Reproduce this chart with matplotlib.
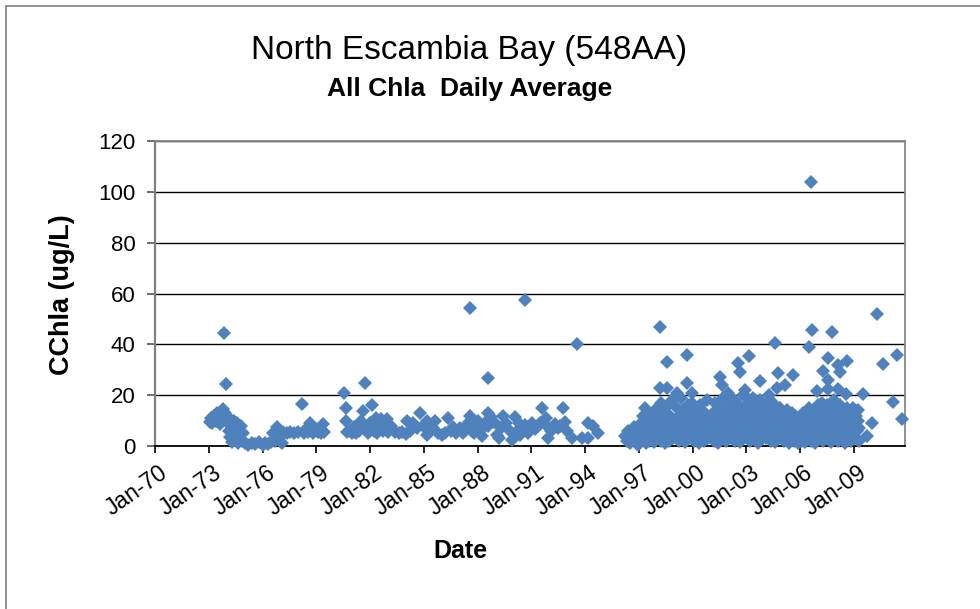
import matplotlib
matplotlib.use("Agg")
import matplotlib.pyplot as plt
import matplotlib.transforms as mtransforms
from matplotlib.lines import Line2D

plt.rcParams['font.family'] = ['Liberation Sans', 'DejaVu Sans']

# ---------------- data (decimal year, chlorophyll a ug/L) ----------------
obs_1973_1980 = [
    (1973.05, 9.5), (1973.12, 11), (1973.2, 9), (1973.3, 12), (1973.38, 10), (1973.45, 13),
    (1973.52, 11), (1973.6, 8.5), (1973.68, 13.5), (1973.75, 12), (1973.82, 14.5), (1973.9, 13),
    (1973.85, 44.3), (1973.94, 24.2), (1974.0, 12),
    (1974.05, 9), (1974.1, 6), (1974.15, 11), (1974.2, 3.5), (1974.25, 8), (1974.3, 1.5),
    (1974.35, 5), (1974.4, 10), (1974.45, 2.5), (1974.5, 7), (1974.55, 4), (1974.6, 9),
    (1974.65, 1), (1974.7, 6), (1974.75, 3), (1974.8, 8), (1974.85, 2), (1974.9, 5), (1975.0, 1),
    (1975.2, 0.5), (1975.4, 1.2), (1975.6, 0.6), (1975.8, 1.4), (1976.0, 0.4), (1976.15, 1),
    (1976.3, 0.7), (1976.45, 1.5), (1976.6, 5), (1976.7, 2), (1976.79, 7.6), (1976.97, 3.6),
    (1977.1, 1.2), (1977.16, 5.6), (1977.35, 5), (1977.55, 5.5), (1977.75, 5), (1977.95, 5.5),
    (1978.18, 16.5), (1978.3, 5), (1978.46, 7), (1978.55, 5.5), (1978.64, 8.9), (1978.8, 5),
    (1979.0, 6.5), (1979.1, 5.5), (1979.25, 5), (1979.39, 8.6), (1979.45, 5.5),
]

obs_1980_1988 = [
    (1980.56, 20.9), (1980.64, 15), (1980.64, 9.8), (1980.7, 5.5), (1980.85, 6), (1981.0, 5),
    (1981.1, 7.5), (1981.2, 5), (1981.3, 8), (1981.4, 6), (1981.5, 10), (1981.62, 13.7),
    (1981.71, 24.6), (1981.8, 7), (1981.9, 5), (1982.0, 9), (1982.12, 16), (1982.2, 6),
    (1982.3, 11), (1982.4, 5), (1982.5, 8), (1982.6, 10.5), (1982.7, 6), (1982.8, 7.5),
    (1982.92, 10.5), (1983.0, 5.5), (1983.15, 8), (1983.4, 5.5), (1983.6, 5), (1983.8, 5.5),
    (1984.0, 4.8), (1984.04, 10), (1984.2, 6), (1984.4, 9), (1984.6, 7), (1984.78, 12.8),
    (1984.95, 8), (1985.15, 10), (1985.15, 4.3), (1985.3, 6), (1985.45, 7.5), (1985.6, 10),
    (1985.8, 5), (1986.0, 4.5), (1986.17, 5), (1986.36, 10.9), (1986.5, 6), (1986.6, 7.5),
    (1986.8, 5), (1987.0, 7), (1987.2, 5), (1987.35, 8), (1987.5, 9.5), (1987.57, 12),
    (1987.57, 54.1), (1987.7, 6), (1987.8, 5), (1987.94, 8),
]

obs_1988_1995 = [
    (1988.0, 10), (1988.1, 6), (1988.25, 4), (1988.4, 9), (1988.57, 12.8), (1988.59, 26.9),
    (1988.75, 11.5), (1988.6, 8), (1988.9, 9.5), (1989.1, 4.3), (1989.2, 3), (1989.3, 7),
    (1989.42, 12), (1989.6, 9), (1989.8, 6), (1989.9, 2.5), (1990.08, 11.5), (1990.2, 6),
    (1990.3, 9), (1990.35, 4.5), (1990.5, 7), (1990.64, 8.3), (1990.63, 57.6), (1990.8, 5),
    (1991.0, 9), (1991.2, 6.5), (1991.35, 8), (1991.5, 9), (1991.57, 14.8), (1991.8, 11),
    (1991.9, 7.5), (1991.94, 3), (1992.1, 6), (1992.3, 8.5), (1992.5, 7), (1992.6, 8),
    (1992.77, 14.8), (1992.87, 9.5), (1993.0, 6), (1993.24, 3), (1993.54, 40), (1993.8, 3),
    (1994.15, 3), (1994.17, 8.9), (1994.45, 8), (1994.73, 5),
]

obs_1996_2002 = [
    (1996.2, 4), (1996.3, 2), (1996.4, 6), (1996.5, 1), (1996.6, 3.5), (1996.7, 7.5), (1996.8, 5),
    (1996.9, 2.5), (1996.95, 0.3),
    (1997.03, 5), (1997.08, 2), (1997.13, 9), (1997.17, 3), (1997.22, 12), (1997.27, 6),
    (1997.33, 15), (1997.37, 1), (1997.42, 8), (1997.47, 4), (1997.51, 13), (1997.56, 2),
    (1997.6, 10), (1997.66, 6), (1997.7, 3), (1997.74, 11), (1997.8, 7), (1997.85, 1.5),
    (1997.9, 14), (1997.96, 5),
    (1998.02, 8), (1998.06, 3), (1998.11, 12), (1998.15, 6), (1998.17, 46.7), (1998.17, 22.7),
    (1998.21, 17), (1998.24, 2), (1998.29, 10), (1998.33, 5), (1998.38, 14), (1998.42, 1),
    (1998.46, 8), (1998.5, 11), (1998.56, 33), (1998.56, 23), (1998.55, 4), (1998.6, 16),
    (1998.64, 7), (1998.68, 2), (1998.72, 12), (1998.77, 5), (1998.82, 9), (1998.86, 18),
    (1998.9, 3), (1998.95, 6),
    (1999.02, 10), (1999.06, 4), (1999.11, 21), (1999.1, 15), (1999.15, 7), (1999.2, 2),
    (1999.24, 12), (1999.28, 6), (1999.33, 19), (1999.38, 3), (1999.42, 9), (1999.46, 14),
    (1999.5, 5), (1999.55, 1.5), (1999.6, 11), (1999.64, 8), (1999.67, 36), (1999.67, 24.7),
    (1999.7, 16), (1999.73, 3), (1999.77, 7), (1999.82, 13), (1999.86, 4), (1999.9, 10),
    (1999.95, 21), (1999.97, 17),
    (2000.02, 6), (2000.06, 2), (2000.1, 11), (2000.15, 8), (2000.2, 14), (2000.24, 4),
    (2000.28, 9), (2000.33, 1), (2000.38, 16), (2000.42, 6), (2000.46, 12), (2000.5, 3),
    (2000.55, 7), (2000.6, 10), (2000.64, 2), (2000.68, 13), (2000.72, 5), (2000.77, 18),
    (2000.82, 8), (2000.86, 3), (2000.9, 11), (2000.95, 6),
    (2001.02, 9), (2001.06, 4), (2001.1, 13), (2001.15, 2), (2001.2, 7), (2001.24, 17),
    (2001.28, 11), (2001.33, 5), (2001.38, 1), (2001.42, 9), (2001.46, 15), (2001.51, 27),
    (2001.5, 6), (2001.55, 3), (2001.6, 24), (2001.62, 12), (2001.66, 8), (2001.7, 19),
    (2001.73, 4), (2001.77, 10), (2001.82, 14), (2001.86, 2), (2001.9, 7), (2001.96, 21),
    (2001.97, 16),
    (2002.02, 5), (2002.06, 11), (2002.1, 3), (2002.15, 8), (2002.2, 14), (2002.24, 6),
    (2002.28, 18), (2002.33, 2), (2002.38, 10), (2002.42, 13), (2002.46, 7), (2002.5, 4),
    (2002.52, 32.5), (2002.55, 16), (2002.6, 9), (2002.63, 29), (2002.64, 1.5), (2002.68, 12),
    (2002.72, 6), (2002.77, 20), (2002.82, 3), (2002.86, 11), (2002.9, 22), (2002.91, 8),
    (2002.95, 15),
]

obs_2003_2011 = [
    (2003.02, 19), (2003.03, 4), (2003.06, 13), (2003.1, 8), (2003.13, 35.3), (2003.15, 17),
    (2003.2, 2), (2003.24, 10), (2003.28, 6), (2003.33, 19), (2003.38, 12), (2003.42, 3),
    (2003.46, 9), (2003.5, 15), (2003.55, 5), (2003.6, 11), (2003.64, 1), (2003.68, 7),
    (2003.72, 14), (2003.75, 25.5), (2003.77, 18), (2003.82, 4), (2003.86, 10), (2003.9, 6),
    (2003.95, 13),
    (2004.02, 8), (2004.06, 3), (2004.1, 16), (2004.15, 11), (2004.2, 5), (2004.24, 20),
    (2004.28, 9), (2004.3, 17), (2004.33, 2), (2004.38, 13), (2004.42, 7), (2004.46, 17),
    (2004.5, 4), (2004.55, 10), (2004.58, 40.6), (2004.6, 1.5), (2004.64, 14), (2004.68, 6),
    (2004.69, 22.7), (2004.72, 12), (2004.75, 28.6), (2004.77, 3), (2004.82, 9), (2004.86, 15),
    (2004.9, 5), (2004.95, 11),
    (2005.02, 7), (2005.06, 2), (2005.1, 12), (2005.14, 24), (2005.15, 5), (2005.2, 9),
    (2005.24, 14), (2005.28, 3), (2005.33, 8), (2005.38, 1), (2005.42, 11), (2005.46, 6),
    (2005.5, 13), (2005.55, 4), (2005.58, 28), (2005.6, 10), (2005.64, 2), (2005.68, 7),
    (2005.72, 12), (2005.77, 5), (2005.82, 9), (2005.86, 1), (2005.9, 6), (2005.95, 11),
    (2006.02, 4), (2006.06, 9), (2006.1, 2), (2006.15, 13), (2006.2, 6), (2006.24, 10),
    (2006.28, 1.5), (2006.33, 8), (2006.38, 12), (2006.42, 3), (2006.47, 39), (2006.46, 15),
    (2006.5, 7), (2006.53, 14), (2006.55, 11), (2006.59, 103.7), (2006.6, 2), (2006.64, 45.7),
    (2006.65, 9), (2006.68, 5), (2006.72, 13), (2006.77, 8), (2006.82, 1), (2006.86, 11),
    (2006.9, 6), (2006.92, 21.6), (2006.95, 16),
    (2007.02, 9), (2007.06, 3), (2007.1, 13), (2007.15, 6), (2007.2, 17), (2007.24, 10),
    (2007.26, 29.5), (2007.27, 15), (2007.28, 2), (2007.33, 8), (2007.38, 12), (2007.42, 5),
    (2007.46, 16), (2007.5, 3), (2007.53, 34.5), (2007.53, 26), (2007.54, 22.3), (2007.55, 11),
    (2007.6, 7), (2007.64, 14), (2007.68, 1.5), (2007.72, 9), (2007.76, 44.7), (2007.77, 12),
    (2007.82, 4), (2007.86, 18), (2007.9, 7), (2007.95, 10),
    (2008.02, 5), (2008.04, 15.3), (2008.06, 13), (2008.09, 31.8), (2008.09, 22.3), (2008.1, 2),
    (2008.15, 9), (2008.2, 29), (2008.21, 16), (2008.24, 6), (2008.28, 11), (2008.33, 3),
    (2008.38, 14), (2008.42, 8), (2008.46, 1), (2008.5, 12), (2008.54, 20.4), (2008.55, 6),
    (2008.59, 33.3), (2008.6, 15), (2008.64, 9), (2008.68, 4), (2008.72, 13), (2008.76, 5),
    (2008.77, 7), (2008.82, 2), (2008.86, 10), (2008.9, 5), (2008.95, 15),
    (2009.02, 8), (2009.06, 3), (2009.1, 12), (2009.15, 6), (2009.21, 14), (2009.2, 10),
    (2009.24, 2), (2009.28, 7), (2009.49, 20.4), (2009.71, 4), (2009.99, 9),
    (2010.27, 51.8), (2010.6, 32.2), (2011.16, 17.3), (2011.38, 35.7), (2011.66, 10.6),
]

x_tick_labels = ['Jan-70', 'Jan-73', 'Jan-76', 'Jan-79', 'Jan-82', 'Jan-85', 'Jan-88',
                 'Jan-91', 'Jan-94', 'Jan-97', 'Jan-00', 'Jan-03', 'Jan-06', 'Jan-09']
y_ticks = [0, 20, 40, 60, 80, 100, 120]

title = 'North Escambia Bay (548AA)'
subtitle = 'All Chla  Daily Average'
x_label = 'Date'
y_label = 'CChla (ug/L)'

# ---------------- assemble ----------------
all_obs = obs_1973_1980 + obs_1980_1988 + obs_1988_1995 + obs_1996_2002 + obs_2003_2011
dates = [d for d, v in all_obs]
chla = [v for d, v in all_obs]

# Excel date axis: start Jan-1970, major unit 1095 days
x_tick_pos = [1970 + k * 1095 / 365.25 for k in range(len(x_tick_labels))]

fig = plt.figure(figsize=(9.8, 6.09), dpi=100)
ax = fig.add_axes([155 / 980, 1 - 446 / 609, 750 / 980, 305 / 609])

ax.plot(dates, chla, linestyle='none', marker='D', markersize=7,
        color='#4F81BD', markeredgewidth=0, zorder=3, clip_on=False)

ax.set_xlim(1970, 2011.83)
ax.set_ylim(0, 120)
ax.set_axisbelow(True)
ax.set_yticks(y_ticks)
ax.yaxis.grid(True, color='black', linewidth=1.0)
ax.xaxis.grid(False)

for s in ['top', 'right']:
    ax.spines[s].set_color('#868686')
    ax.spines[s].set_linewidth(1.3)
ax.spines['left'].set_color('#808080')
ax.spines['left'].set_linewidth(1.6)
ax.spines['bottom'].set_color('black')
ax.spines['bottom'].set_linewidth(1.3)

ax.tick_params(axis='y', direction='out', length=6, width=1.2, color='#555555',
               labelsize=16, pad=8)
ax.tick_params(axis='x', direction='out', length=5, width=1.2, color='black',
               labelsize=16.5, pad=6)

ax.set_xticks(x_tick_pos)
ax.set_xticklabels(x_tick_labels, rotation=35, ha='right', va='top',
                   rotation_mode='anchor')
offset = mtransforms.ScaledTranslation(4 / 100, 0, fig.dpi_scale_trans)
for lab in ax.xaxis.get_majorticklabels():
    lab.set_transform(lab.get_transform() + offset)

fig.text(469 / 980, 1 - 50 / 609, title, ha='center', va='center', fontsize=24)
fig.text(470 / 980, 1 - 89 / 609, subtitle, ha='center', va='center', fontsize=19,
         fontweight='bold')
fig.text(460 / 980, 1 - 551 / 609, x_label, ha='center', va='center', fontsize=18,
         fontweight='bold')
fig.text(62 / 980, 1 - 295 / 609, y_label, ha='center', va='center', fontsize=19.5,
         fontweight='bold', rotation=90)

# outer chart-area border (top and left edges visible)
fig.add_artist(Line2D([6 / 980, 1.0], [1 - 6 / 609, 1 - 6 / 609], transform=fig.transFigure,
                      color='#808080', linewidth=1.2))
fig.add_artist(Line2D([6 / 980, 6 / 980], [0.0, 1 - 6 / 609], transform=fig.transFigure,
                      color='#808080', linewidth=1.2))

fig.savefig('out.png', dpi=100)
